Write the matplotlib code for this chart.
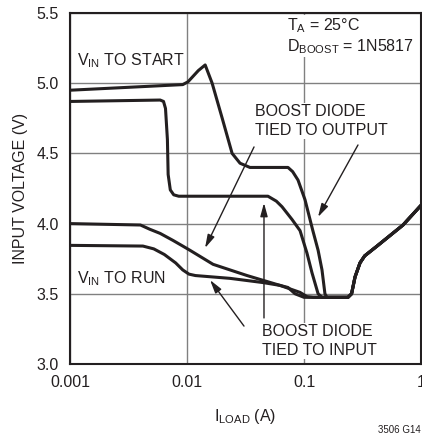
import matplotlib
matplotlib.use("Agg")
import matplotlib.pyplot as plt
import numpy as np

plt.rcParams['font.family'] = ['Liberation Sans Narrow', 'Liberation Sans', 'DejaVu Sans']

# Curve A: V_IN to start, boost diode tied to output
a_x = [0.001, 0.0092, 0.0102, 0.0125, 0.0143, 0.0164, 0.0200, 0.0243, 0.0284, 0.0345,
       0.0730, 0.0800, 0.0889, 0.102, 0.1125, 0.119, 0.132, 0.1425, 0.151, 0.157]
a_y = [4.95, 4.99, 5.01, 5.09, 5.13, 5.00, 4.75, 4.50, 4.43, 4.40,
       4.40, 4.37, 4.31, 4.17, 4.03, 3.95, 3.81, 3.67, 3.50, 3.475]

# Curve B: V_IN to start, boost diode tied to input
b_x = [0.001, 0.0059, 0.0063, 0.00655, 0.0068, 0.0069, 0.0072, 0.0077, 0.0085, 0.0492,
       0.0580, 0.0649, 0.0789, 0.0925, 0.106, 0.117, 0.132, 0.1425]
b_y = [4.87, 4.88, 4.87, 4.82, 4.60, 4.35, 4.24, 4.205, 4.195, 4.195,
       4.16, 4.12, 4.03, 3.95, 3.79, 3.65, 3.50, 3.475]

# Curve C: V_IN to run, boost diode tied to output
c_x = [0.001, 0.0040, 0.0048, 0.0059, 0.0076, 0.0092, 0.0106, 0.0167, 0.0326, 0.0623,
       0.0925, 0.106, 0.120]
c_y = [4.00, 3.99, 3.96, 3.93, 3.88, 3.84, 3.81, 3.71, 3.63, 3.56,
       3.51, 3.48, 3.475]

# Curve D: V_IN to run, boost diode tied to input
d_x = [0.001, 0.0042, 0.0052, 0.0064, 0.0080, 0.0092, 0.0104, 0.0118, 0.0233, 0.0446,
       0.0623, 0.0730, 0.0839, 0.100]
d_y = [3.845, 3.84, 3.82, 3.78, 3.72, 3.67, 3.64, 3.63, 3.61, 3.58,
       3.56, 3.545, 3.50, 3.475]

# Shared tail (all curves overlap)
tail_x = [0.2377, 0.255, 0.273, 0.301, 0.330, 0.421, 0.702, 1.0]
tail_y = [3.475, 3.50, 3.62, 3.72, 3.77, 3.84, 3.99, 4.13]

x_ticks = [0.001, 0.01, 0.1, 1]
x_labels = ["0.001", "0.01", "0.1", "1"]
y_ticks = [3.0, 3.5, 4.0, 4.5, 5.0, 5.5]
y_labels = ["3.0", "3.5", "4.0", "4.5", "5.0", "5.5"]

fig = plt.figure(figsize=(4.22, 4.36), dpi=100)
ax = fig.add_axes([70/422, 1-364/436, 351/422, 351/436])
ax.set_xscale('log')
ax.set_xlim(0.001, 1)
ax.set_ylim(3.0, 5.5)

for xs, ys in [(a_x, a_y), (b_x, b_y), (c_x, c_y), (d_x, d_y)]:
    ax.plot(list(xs) + tail_x, list(ys) + tail_y, color='#231f20', lw=2.2,
            solid_joinstyle='round', solid_capstyle='round', zorder=3)

ax.set_xticks(x_ticks)
ax.set_xticklabels(x_labels)
ax.set_yticks(y_ticks)
ax.set_yticklabels(y_labels)
ax.minorticks_off()
ax.tick_params(length=0, labelsize=11.5, colors='#231f20', pad=8)
ax.grid(True, color='#808080', lw=1.0)
for s in ax.spines.values():
    s.set_color('#231f20')
    s.set_linewidth(1.5)

ax.set_ylabel("INPUT VOLTAGE (V)", fontsize=11.5, color='#231f20', labelpad=6)
ax.set_xlabel("I$_{\\mathregular{LOAD}}$ (A)", fontsize=11.5, color='#231f20', labelpad=12)

tk = dict(fontsize=11.5, color='#231f20', zorder=4)
ax.text(0.00115, 5.16, "V$_{\\mathregular{IN}}$ TO START", va='center', ha='left', **tk)
ax.text(0.00115, 3.61, "V$_{\\mathregular{IN}}$ TO RUN", va='center', ha='left', **tk)
ax.text(0.071, 5.475, "T$_{\\mathregular{A}}$ = 25°C\nD$_{\\mathregular{BOOST}}$ = 1N5817", va='top', ha='left',
        linespacing=1.15, bbox=dict(facecolor='white', edgecolor='none', pad=1), **tk)
ax.text(0.0385, 4.73, "BOOST DIODE\nTIED TO OUTPUT", va='center', ha='left', linespacing=1.3,
        bbox=dict(facecolor='white', edgecolor='none', pad=1), **tk)
ax.text(0.044, 3.165, "BOOST DIODE\nTIED TO INPUT", va='center', ha='left', linespacing=1.3,
        bbox=dict(facecolor='white', edgecolor='none', pad=1), **tk)

ap = dict(arrowstyle='-|>,head_length=0.8,head_width=0.22', color='#231f20', lw=1.0, shrinkA=0, shrinkB=0)
ax.annotate("", xy=(0.01426, 3.826), xytext=(0.0374, 4.546), arrowprops=ap, zorder=4)
ax.annotate("", xy=(0.1318, 4.047), xytext=(0.2893, 4.56), arrowprops=ap, zorder=4)
ax.annotate("", xy=(0.01574, 3.598), xytext=(0.0307, 3.27), arrowprops=ap, zorder=4)
ax.annotate("", xy=(0.0455, 4.147), xytext=(0.0455, 3.328), arrowprops=ap, zorder=4)

fig.text(421/422, 1-430/436, "3506 G14", ha='right', va='center', fontsize=7, color='#231f20')

fig.savefig("out.png", dpi=100)
